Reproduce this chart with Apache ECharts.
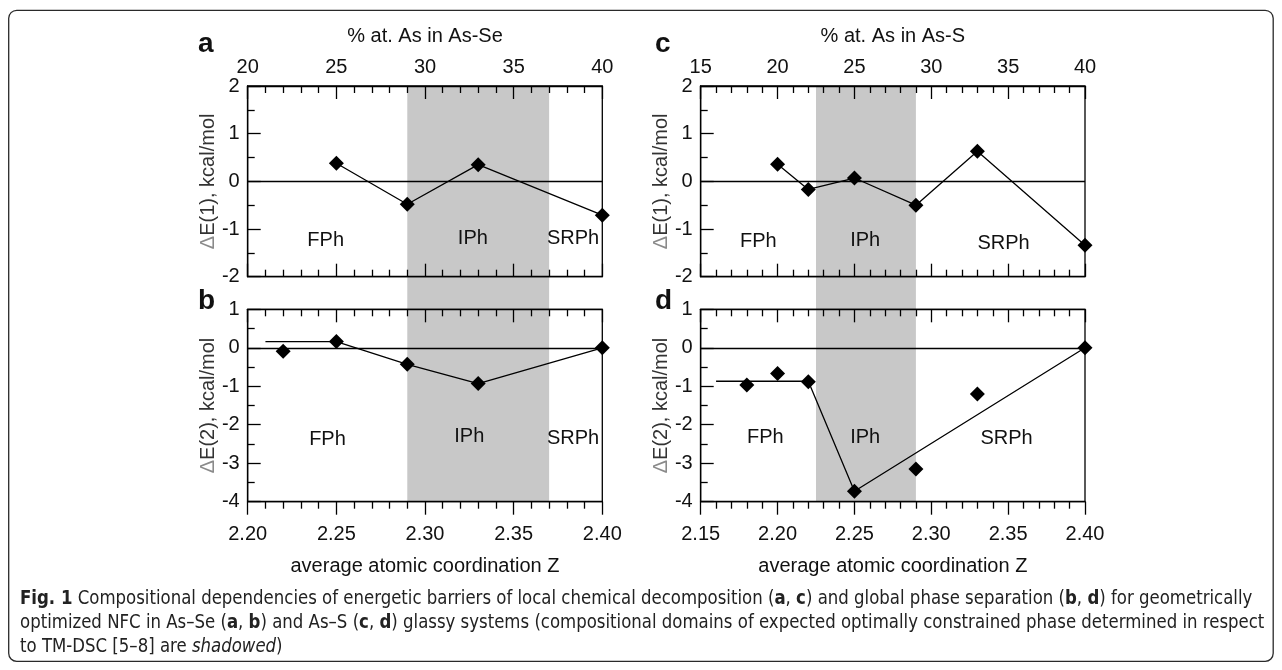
<!DOCTYPE html>
<html>
<head>
<meta charset="utf-8">
<script src="https://cdn.jsdelivr.net/npm/echarts@6/dist/echarts.min.js"></script>
<style>
html,body{margin:0;padding:0;background:#fff;}
#chart{width:1282px;height:670px;}
</style>
</head>
<body>
<div id="chart"></div>
<script>
// ---------- data ----------
// Panel a: As-Se, dE(1)
const zAsSe_a = [2.25, 2.29, 2.33, 2.40];
const dE1_AsSe = [0.38, -0.48, 0.35, -0.71];
// Panel b: As-Se, dE(2)
const zAsSe_b = [2.22, 2.25, 2.29, 2.33, 2.40];
const dE2_AsSe = [-0.09, 0.16, -0.43, -0.93, 0.0];
const fitAsSe_z = [2.21, 2.25, 2.29, 2.33, 2.40];
const fitAsSe_v = [0.16, 0.16, -0.43, -0.93, 0.0];
// Panel c: As-S, dE(1)
const zAsS_c = [2.20, 2.22, 2.25, 2.29, 2.33, 2.40];
const dE1_AsS = [0.36, -0.17, 0.07, -0.50, 0.63, -1.34];
// Panel d: As-S, dE(2)
const zAsS_d = [2.18, 2.20, 2.22, 2.25, 2.29, 2.33, 2.40];
const dE2_AsS = [-0.97, -0.67, -0.88, -3.73, -3.15, -1.20, 0.0];
const fitAsS_z = [2.16, 2.22, 2.25, 2.40];
const fitAsS_v = [-0.87, -0.87, -3.73, 0.0];
// Shadowed (IPh) domains in Z
const shadeAsSe = [2.29, 2.37];
const shadeAsS = [2.225, 2.29];
// Axis ranges / ticks
const zRangeAsSe = [2.20, 2.40];
const zRangeAsS = [2.15, 2.40];
const pctRangeAsSe = [20, 40];
const pctRangeAsS = [15, 40];
const yRange1 = [-2, 2];
const yRange2 = [-4, 1];
// Phase labels: [text, Z, value]
const labelsA = [['FPh', 2.244, -1.23], ['IPh', 2.327, -1.19], ['SRPh', 2.3835, -1.2]];
const labelsB = [['FPh', 2.245, -2.39], ['IPh', 2.325, -2.31], ['SRPh', 2.3835, -2.35]];
const labelsC = [['FPh', 2.1875, -1.27], ['IPh', 2.257, -1.25], ['SRPh', 2.347, -1.3]];
const labelsD = [['FPh', 2.192, -2.32], ['IPh', 2.257, -2.32], ['SRPh', 2.349, -2.36]];

const zip = (a, b) => a.map((v, i) => [v, b[i]]);

// ---------- style ----------
const FONT = "'Liberation Sans', Arial, sans-serif";
const TXT = '#111';
const LW = 1.3;
const tickLine = { color: '#000', width: LW };

const gA = { left: 247.7, width: 354.6, top: 86, height: 190.7 };
const gB = { left: 247.7, width: 354.6, top: 309.3, height: 192.4 };
const gC = { left: 700.7, width: 384.3, top: 86, height: 190.7 };
const gD = { left: 700.7, width: 384.3, top: 309.3, height: 192.4 };
const gSe = { left: 247.7, width: 354.6, top: 86, height: 415.7 };
const gS = { left: 700.7, width: 384.3, top: 86, height: 415.7 };

function grid(g) {
  return Object.assign({ show: true, borderColor: '#000', borderWidth: LW, backgroundColor: 'transparent', containLabel: false }, g);
}
function hiddenGrid(g) { return Object.assign({ show: false, containLabel: false }, g); }

function xAx(gi, range, interval, opts) {
  return {
    gridIndex: gi, type: 'value', min: range[0], max: range[1], interval: interval,
    position: opts.position,
    axisLine: { show: true, onZero: false, lineStyle: tickLine },
    axisTick: { show: true, inside: opts.inside, length: 13, lineStyle: tickLine },
    minorTick: { show: true, splitNumber: 5, length: 7, lineStyle: tickLine },
    splitLine: { show: false }, minorSplitLine: { show: false },
    axisLabel: { show: !!opts.labels, fontSize: 20, color: TXT, fontFamily: FONT, margin: opts.margin || 8,
      formatter: opts.fmt },
    name: opts.name || '', nameLocation: 'middle', nameGap: opts.nameGap || 30,
    nameTextStyle: { fontSize: 20, color: TXT, fontFamily: FONT }
  };
}
function yAx(gi, range, name) {
  return {
    gridIndex: gi, type: 'value', min: range[0], max: range[1], interval: 1,
    axisLine: { show: true, onZero: false, lineStyle: tickLine },
    axisTick: { show: true, inside: true, length: 13, lineStyle: tickLine },
    minorTick: { show: true, splitNumber: 2, length: 7, lineStyle: tickLine },
    splitLine: { show: false },
    axisLabel: { fontSize: 20, color: TXT, fontFamily: FONT, margin: 8 },
    name: name, nameLocation: 'middle', nameGap: 26, nameRotate: 90,
    nameTextStyle: { fontSize: 20, color: '#333', fontFamily: FONT,
      rich: { d: { fontSize: 20, color: '#8a8a8a', fontFamily: FONT } } }
  };
}
function hiddenAx(gi, range) {
  return { gridIndex: gi, type: 'value', min: range[0], max: range[1], show: false };
}

const zeroLine = {
  silent: true, symbol: 'none', label: { show: false },
  lineStyle: { color: '#000', width: LW, type: 'solid' },
  emphasis: { disabled: true },
  data: [{ yAxis: 0 }]
};
function markerSeries(xi, yi, data, withLine, mark) {
  return {
    type: withLine ? 'line' : 'scatter', xAxisIndex: xi, yAxisIndex: yi, data: data,
    symbol: 'diamond', symbolSize: 15, showSymbol: true,
    itemStyle: { color: '#000', opacity: 1 },
    lineStyle: { color: '#000', width: LW },
    z: 5, animation: false,
    markLine: mark ? zeroLine : undefined
  };
}
function fitSeries(xi, yi, data, mark) {
  return {
    type: 'line', xAxisIndex: xi, yAxisIndex: yi, data: data, symbol: 'none',
    lineStyle: { color: '#000', width: LW }, z: 4, animation: false,
    markLine: mark ? zeroLine : undefined
  };
}
function shadeSeries(xi, yi, range) {
  return {
    type: 'line', xAxisIndex: xi, yAxisIndex: yi,
    data: [[range[0], 1], [range[1], 1]], symbol: 'none',
    lineStyle: { width: 0, opacity: 0 }, areaStyle: { color: '#c8c8c8', opacity: 1 },
    z: -1, silent: true, animation: false
  };
}
function labelSeries(xi, yi, labels) {
  return {
    type: 'scatter', xAxisIndex: xi, yAxisIndex: yi, symbolSize: 0.1, silent: true, animation: false,
    data: labels.map(l => ({ name: l[0], value: [l[1], l[2]] })),
    label: { show: true, position: 'inside', formatter: p => p.name, fontSize: 20, color: TXT,
      fontFamily: FONT, textBorderWidth: 0, opacity: 1 },
    itemStyle: { color: '#000', opacity: 1 }, z: 3
  };
}

const fmt2 = v => v.toFixed(2);
const CAP = "19px 'DejaVu Sans Condensed', 'DejaVu Sans', sans-serif";
const CAPFONT = "condensed " + CAP;
const CAPB = "condensed bold " + CAP;
const CAPI = "italic condensed " + CAP;
const CAPSCALE = 0.969;

const option = {
  backgroundColor: '#fff',
  animation: false,
  grid: [grid(gA), grid(gB), grid(gC), grid(gD), hiddenGrid(gSe), hiddenGrid(gS)],
  xAxis: [
    xAx(0, zRangeAsSe, 0.05, { position: 'bottom', inside: true, labels: false }),
    xAx(0, pctRangeAsSe, 5, { position: 'top', inside: true, labels: true, margin: 9, name: '% at. As in As-Se', nameGap: 40 }),
    xAx(1, zRangeAsSe, 0.05, { position: 'bottom', inside: false, labels: true, margin: 23, fmt: fmt2, name: 'average atomic coordination Z', nameGap: 55 }),
    xAx(1, zRangeAsSe, 0.05, { position: 'top', inside: true, labels: false }),
    xAx(2, zRangeAsS, 0.05, { position: 'bottom', inside: true, labels: false }),
    xAx(2, pctRangeAsS, 5, { position: 'top', inside: true, labels: true, margin: 9, name: '% at. As in As-S', nameGap: 40 }),
    xAx(3, zRangeAsS, 0.05, { position: 'bottom', inside: false, labels: true, margin: 23, fmt: fmt2, name: 'average atomic coordination Z', nameGap: 55 }),
    xAx(3, zRangeAsS, 0.05, { position: 'top', inside: true, labels: false }),
    hiddenAx(4, zRangeAsSe),
    hiddenAx(5, zRangeAsS)
  ],
  yAxis: [
    yAx(0, yRange1, '{d|Δ}E(1), kcal/mol'),
    yAx(1, yRange2, '{d|Δ}E(2), kcal/mol'),
    yAx(2, yRange1, '{d|Δ}E(1), kcal/mol'),
    yAx(3, yRange2, '{d|Δ}E(2), kcal/mol'),
    hiddenAx(4, [0, 1]),
    hiddenAx(5, [0, 1])
  ],
  series: [
    shadeSeries(8, 4, shadeAsSe),
    shadeSeries(9, 5, shadeAsS),
    markerSeries(0, 0, zip(zAsSe_a, dE1_AsSe), true, true),
    fitSeries(2, 1, zip(fitAsSe_z, fitAsSe_v), true),
    markerSeries(2, 1, zip(zAsSe_b, dE2_AsSe), false, false),
    markerSeries(4, 2, zip(zAsS_c, dE1_AsS), true, true),
    fitSeries(6, 3, zip(fitAsS_z, fitAsS_v), true),
    markerSeries(6, 3, zip(zAsS_d, dE2_AsS), false, false),
    labelSeries(0, 0, labelsA),
    labelSeries(2, 1, labelsB),
    labelSeries(4, 2, labelsC),
    labelSeries(6, 3, labelsD)
  ],
  graphic: [
    { type: 'rect', shape: { x: 8.7, y: 10.3, width: 1264.5, height: 651, r: 8 },
      style: { fill: 'none', stroke: '#2a2a2a', lineWidth: 1.3 }, z: 100, silent: true },
    { type: 'text', left: 198, top: 30, style: { text: 'a', font: "bold 28px 'Liberation Sans', Arial, sans-serif", fill: '#111' } },
    { type: 'text', left: 198, top: 287, style: { text: 'b', font: "bold 28px 'Liberation Sans', Arial, sans-serif", fill: '#111' } },
    { type: 'text', left: 655, top: 30, style: { text: 'c', font: "bold 28px 'Liberation Sans', Arial, sans-serif", fill: '#111' } },
    { type: 'text', left: 655, top: 287, style: { text: 'd', font: "bold 28px 'Liberation Sans', Arial, sans-serif", fill: '#111' } },
    { type: 'text', x: 20, y: 590, scaleX: CAPSCALE, style: {
        text: '{b|Fig. 1} Compositional dependencies of energetic barriers of local chemical decomposition ({b|a}, {b|c}) and global phase separation ({b|b}, {b|d}) for geometrically',
        font: CAPFONT, fill: '#222', verticalAlign: 'top', align: 'left', rich: { b: { font: CAPB, fill: '#222' } } } },
    { type: 'text', x: 20, y: 614, scaleX: CAPSCALE, style: {
        text: 'optimized NFC in As–Se ({b|a}, {b|b}) and As–S ({b|c}, {b|d}) glassy systems (compositional domains of expected optimally constrained phase determined in respect',
        font: CAPFONT, fill: '#222', verticalAlign: 'top', align: 'left', rich: { b: { font: CAPB, fill: '#222' } } } },
    { type: 'text', x: 20, y: 638, scaleX: CAPSCALE, style: {
        text: 'to TM-DSC [5–8] are {i|shadowed})',
        font: CAPFONT, fill: '#222', verticalAlign: 'top', align: 'left', rich: { i: { font: CAPI, fill: '#222' } } } }
  ]
};

const chart = echarts.init(document.getElementById('chart'), null, { renderer: 'canvas' });
chart.setOption(option);
</script>
</body>
</html>
